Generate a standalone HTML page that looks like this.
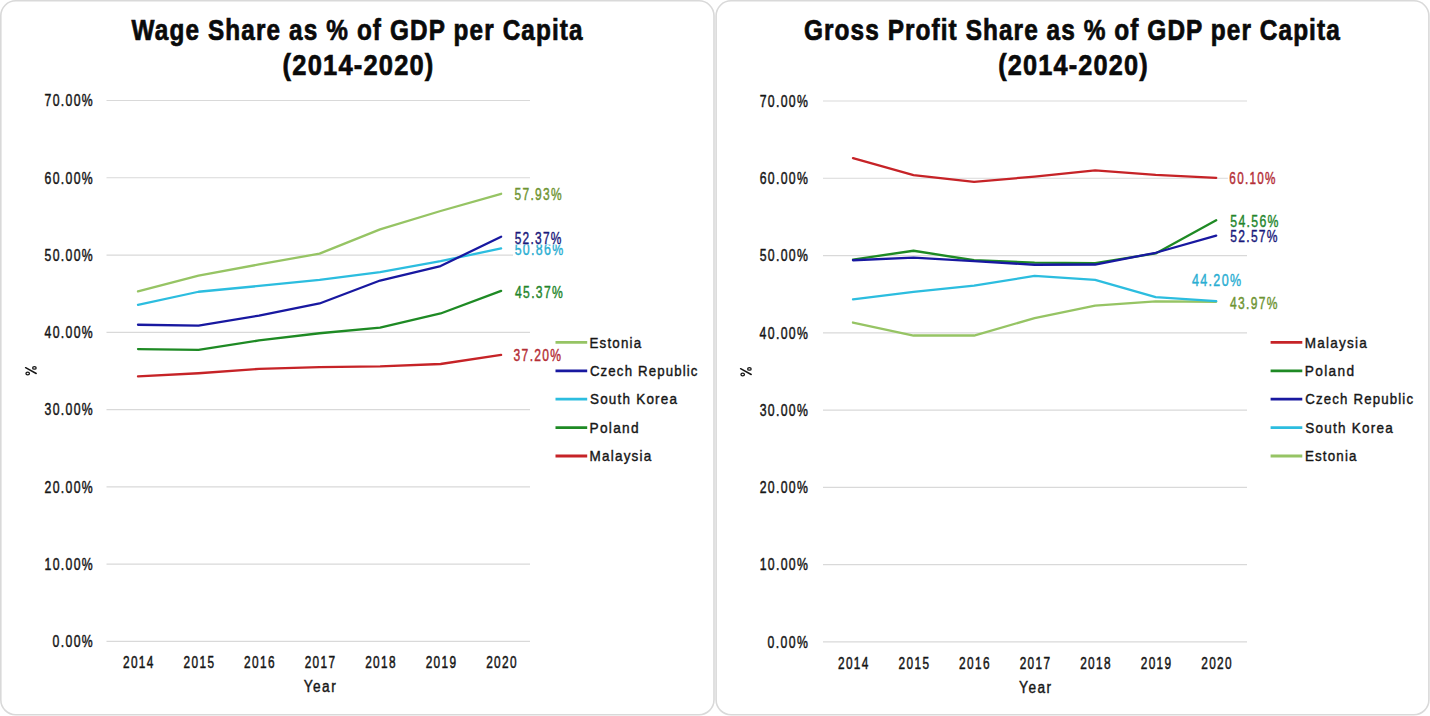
<!DOCTYPE html>
<html><head><meta charset="utf-8"><style>
html,body{margin:0;padding:0;background:#fff;}
body{width:1430px;height:716px;overflow:hidden;}
svg{display:block;font-family:"Liberation Sans",sans-serif;}
</style></head><body>
<svg width="1430" height="716" viewBox="0 0 1430 716">
<rect x="0" y="0" width="1430" height="716" fill="#fff"/>
<rect x="0.8" y="0.8" width="713.2" height="714" rx="15" ry="15" fill="none" stroke="#d9d9d9" stroke-width="1.6"/>
<rect x="716.1" y="0.8" width="712.8" height="714" rx="15" ry="15" fill="none" stroke="#d9d9d9" stroke-width="1.6"/>
<line x1="106.5" y1="100.50" x2="530" y2="100.50" stroke="#d9d9d9" stroke-width="1.2"/>
<line x1="106.5" y1="177.77" x2="530" y2="177.77" stroke="#d9d9d9" stroke-width="1.2"/>
<line x1="106.5" y1="255.04" x2="530" y2="255.04" stroke="#d9d9d9" stroke-width="1.2"/>
<line x1="106.5" y1="332.31" x2="530" y2="332.31" stroke="#d9d9d9" stroke-width="1.2"/>
<line x1="106.5" y1="409.59" x2="530" y2="409.59" stroke="#d9d9d9" stroke-width="1.2"/>
<line x1="106.5" y1="486.86" x2="530" y2="486.86" stroke="#d9d9d9" stroke-width="1.2"/>
<line x1="106.5" y1="564.13" x2="530" y2="564.13" stroke="#d9d9d9" stroke-width="1.2"/>
<line x1="106.5" y1="641.40" x2="530" y2="641.40" stroke="#d9d9d9" stroke-width="1.2"/>
<text transform="translate(44.57,106.32) scale(0.7548,1)" font-size="16.25" font-weight="normal" fill="#161616" stroke="#161616" stroke-width="0.477" letter-spacing="1.748">70.00%</text>
<text transform="translate(44.57,183.59) scale(0.7548,1)" font-size="16.25" font-weight="normal" fill="#161616" stroke="#161616" stroke-width="0.477" letter-spacing="1.749">60.00%</text>
<text transform="translate(44.55,260.86) scale(0.7548,1)" font-size="16.25" font-weight="normal" fill="#161616" stroke="#161616" stroke-width="0.477" letter-spacing="1.754">50.00%</text>
<text transform="translate(44.51,338.13) scale(0.7548,1)" font-size="16.25" font-weight="normal" fill="#161616" stroke="#161616" stroke-width="0.477" letter-spacing="1.764">40.00%</text>
<text transform="translate(44.54,415.41) scale(0.7548,1)" font-size="16.25" font-weight="normal" fill="#161616" stroke="#161616" stroke-width="0.477" letter-spacing="1.755">30.00%</text>
<text transform="translate(44.57,492.68) scale(0.7548,1)" font-size="16.25" font-weight="normal" fill="#161616" stroke="#161616" stroke-width="0.477" letter-spacing="1.749">20.00%</text>
<text transform="translate(44.62,569.95) scale(0.7548,1)" font-size="16.25" font-weight="normal" fill="#161616" stroke="#161616" stroke-width="0.477" letter-spacing="1.735">10.00%</text>
<text transform="translate(52.47,647.22) scale(0.7548,1)" font-size="16.25" font-weight="normal" fill="#161616" stroke="#161616" stroke-width="0.477" letter-spacing="1.826">0.00%</text>
<g transform="translate(0.00,0.00)" stroke="#161616" fill="none"><line x1="25.6" y1="367.7" x2="36.2" y2="373.5" stroke-width="1.5" stroke-linecap="round"/><ellipse cx="27.7" cy="373.5" rx="1.75" ry="1.3" stroke-width="1.3"/><ellipse cx="34.4" cy="367.9" rx="1.75" ry="1.3" stroke-width="1.3"/></g>
<text transform="translate(122.94,667.82) scale(0.7287,1)" font-size="16.25" font-weight="normal" fill="#161616" stroke="#161616" stroke-width="0.494" letter-spacing="1.892">2014</text>
<text transform="translate(183.55,667.82) scale(0.7287,1)" font-size="16.25" font-weight="normal" fill="#161616" stroke="#161616" stroke-width="0.494" letter-spacing="1.880">2015</text>
<text transform="translate(244.09,667.82) scale(0.7287,1)" font-size="16.25" font-weight="normal" fill="#161616" stroke="#161616" stroke-width="0.494" letter-spacing="1.878">2016</text>
<text transform="translate(304.65,667.82) scale(0.7287,1)" font-size="16.25" font-weight="normal" fill="#161616" stroke="#161616" stroke-width="0.494" letter-spacing="1.872">2017</text>
<text transform="translate(365.13,667.82) scale(0.7287,1)" font-size="16.25" font-weight="normal" fill="#161616" stroke="#161616" stroke-width="0.494" letter-spacing="1.878">2018</text>
<text transform="translate(425.68,667.82) scale(0.7287,1)" font-size="16.25" font-weight="normal" fill="#161616" stroke="#161616" stroke-width="0.494" letter-spacing="1.874">2019</text>
<text transform="translate(486.13,667.82) scale(0.7287,1)" font-size="16.25" font-weight="normal" fill="#161616" stroke="#161616" stroke-width="0.494" letter-spacing="1.883">2020</text>
<text transform="translate(303.68,691.92) scale(0.8452,1)" font-size="16.19" font-weight="normal" fill="#161616" stroke="#161616" stroke-width="0.426" letter-spacing="1.741">Year</text>
<text transform="translate(131.55,40.20) scale(0.8412,1)" font-size="28.92" font-weight="bold" fill="#0a0a0a" stroke="#0a0a0a" stroke-width="0.713" letter-spacing="1.341">Wage Share as % of GDP per Capita</text>
<text transform="translate(282.62,74.70) scale(0.8558,1)" font-size="29.80" font-weight="bold" fill="#0a0a0a" stroke="#0a0a0a" stroke-width="0.701" letter-spacing="1.386">(2014-2020)</text>
<polyline points="138.00,291.44 198.52,275.67 259.04,264.47 319.56,253.65 380.08,229.39 440.60,211.00 501.12,193.77" fill="none" stroke="#96c464" stroke-width="2.3" stroke-linejoin="round" stroke-linecap="round"/>
<polyline points="138.00,304.88 198.52,291.75 259.04,285.95 319.56,279.77 380.08,272.04 440.60,261.22 501.12,248.40" fill="none" stroke="#2cbddf" stroke-width="2.3" stroke-linejoin="round" stroke-linecap="round"/>
<polyline points="138.00,324.74 198.52,325.59 259.04,315.55 319.56,303.49 380.08,280.54 440.60,266.02 501.12,236.73" fill="none" stroke="#1818a0" stroke-width="2.3" stroke-linejoin="round" stroke-linecap="round"/>
<polyline points="138.00,349.08 198.52,349.85 259.04,340.43 319.56,333.24 380.08,327.68 440.60,313.46 501.12,290.82" fill="none" stroke="#1e8a24" stroke-width="2.3" stroke-linejoin="round" stroke-linecap="round"/>
<polyline points="138.00,376.36 198.52,373.27 259.04,368.86 319.56,367.09 380.08,366.31 440.60,364.00 501.12,354.88" fill="none" stroke="#c62327" stroke-width="2.3" stroke-linejoin="round" stroke-linecap="round"/>
<rect x="512.80" y="187.60" width="50.60" height="14.60" fill="#fff"/>
<text transform="translate(514.48,200.04) scale(0.7561,1)" font-size="15.87" font-weight="normal" fill="#6e9432" stroke="#6e9432" stroke-width="0.423" letter-spacing="1.714">57.93%</text>
<rect x="513.00" y="242.60" width="51.90" height="14.60" fill="#fff"/>
<text transform="translate(514.67,255.04) scale(0.7774,1)" font-size="15.87" font-weight="normal" fill="#2aaed2" stroke="#2aaed2" stroke-width="0.412" letter-spacing="1.714">50.86%</text>
<rect x="513.00" y="231.80" width="50.20" height="12.80" fill="#fff"/>
<text transform="translate(514.68,244.24) scale(0.7496,1)" font-size="15.87" font-weight="normal" fill="#1a1a7c" stroke="#1a1a7c" stroke-width="0.427" letter-spacing="1.714">52.37%</text>
<rect x="513.10" y="285.60" width="51.40" height="14.70" fill="#fff"/>
<text transform="translate(514.99,298.14) scale(0.7582,1)" font-size="16.02" font-weight="normal" fill="#24862c" stroke="#24862c" stroke-width="0.422" letter-spacing="1.739">45.37%</text>
<rect x="511.90" y="348.40" width="50.90" height="14.70" fill="#fff"/>
<text transform="translate(513.60,360.94) scale(0.7538,1)" font-size="16.02" font-weight="normal" fill="#b42e36" stroke="#b42e36" stroke-width="0.425" letter-spacing="1.730">37.20%</text>
<line x1="555.5" y1="342.40" x2="587.2" y2="342.40" stroke="#96c464" stroke-width="2.8"/>
<text transform="translate(589.48,347.62) scale(0.8802,1)" font-size="15.17" font-weight="normal" fill="#161616" stroke="#161616" stroke-width="0.409" letter-spacing="1.340">Estonia</text>
<line x1="555.5" y1="370.80" x2="587.2" y2="370.80" stroke="#1818a0" stroke-width="2.8"/>
<text transform="translate(589.92,376.02) scale(0.8724,1)" font-size="15.17" font-weight="normal" fill="#161616" stroke="#161616" stroke-width="0.413" letter-spacing="1.316">Czech Republic</text>
<line x1="555.5" y1="399.20" x2="587.2" y2="399.20" stroke="#2cbddf" stroke-width="2.8"/>
<text transform="translate(589.96,404.42) scale(0.8895,1)" font-size="15.17" font-weight="normal" fill="#161616" stroke="#161616" stroke-width="0.405" letter-spacing="1.362">South Korea</text>
<line x1="555.5" y1="427.60" x2="587.2" y2="427.60" stroke="#1e8a24" stroke-width="2.8"/>
<text transform="translate(589.46,432.82) scale(0.9021,1)" font-size="15.17" font-weight="normal" fill="#161616" stroke="#161616" stroke-width="0.399" letter-spacing="1.466">Poland</text>
<line x1="555.5" y1="456.00" x2="587.2" y2="456.00" stroke="#c62327" stroke-width="2.8"/>
<text transform="translate(589.47,461.22) scale(0.8924,1)" font-size="15.17" font-weight="normal" fill="#161616" stroke="#161616" stroke-width="0.403" letter-spacing="1.364">Malaysia</text>
<line x1="823" y1="101.00" x2="1247" y2="101.00" stroke="#d9d9d9" stroke-width="1.2"/>
<line x1="823" y1="178.27" x2="1247" y2="178.27" stroke="#d9d9d9" stroke-width="1.2"/>
<line x1="823" y1="255.54" x2="1247" y2="255.54" stroke="#d9d9d9" stroke-width="1.2"/>
<line x1="823" y1="332.81" x2="1247" y2="332.81" stroke="#d9d9d9" stroke-width="1.2"/>
<line x1="823" y1="410.09" x2="1247" y2="410.09" stroke="#d9d9d9" stroke-width="1.2"/>
<line x1="823" y1="487.36" x2="1247" y2="487.36" stroke="#d9d9d9" stroke-width="1.2"/>
<line x1="823" y1="564.63" x2="1247" y2="564.63" stroke="#d9d9d9" stroke-width="1.2"/>
<line x1="823" y1="641.90" x2="1247" y2="641.90" stroke="#d9d9d9" stroke-width="1.2"/>
<text transform="translate(759.67,106.82) scale(0.7548,1)" font-size="16.25" font-weight="normal" fill="#161616" stroke="#161616" stroke-width="0.477" letter-spacing="1.748">70.00%</text>
<text transform="translate(759.67,184.09) scale(0.7548,1)" font-size="16.25" font-weight="normal" fill="#161616" stroke="#161616" stroke-width="0.477" letter-spacing="1.749">60.00%</text>
<text transform="translate(759.65,261.36) scale(0.7548,1)" font-size="16.25" font-weight="normal" fill="#161616" stroke="#161616" stroke-width="0.477" letter-spacing="1.754">50.00%</text>
<text transform="translate(759.61,338.63) scale(0.7548,1)" font-size="16.25" font-weight="normal" fill="#161616" stroke="#161616" stroke-width="0.477" letter-spacing="1.764">40.00%</text>
<text transform="translate(759.64,415.91) scale(0.7548,1)" font-size="16.25" font-weight="normal" fill="#161616" stroke="#161616" stroke-width="0.477" letter-spacing="1.755">30.00%</text>
<text transform="translate(759.67,493.18) scale(0.7548,1)" font-size="16.25" font-weight="normal" fill="#161616" stroke="#161616" stroke-width="0.477" letter-spacing="1.749">20.00%</text>
<text transform="translate(759.72,570.45) scale(0.7548,1)" font-size="16.25" font-weight="normal" fill="#161616" stroke="#161616" stroke-width="0.477" letter-spacing="1.735">10.00%</text>
<text transform="translate(767.57,647.72) scale(0.7548,1)" font-size="16.25" font-weight="normal" fill="#161616" stroke="#161616" stroke-width="0.477" letter-spacing="1.826">0.00%</text>
<g transform="translate(715.00,1.00)" stroke="#161616" fill="none"><line x1="25.6" y1="367.7" x2="36.2" y2="373.5" stroke-width="1.5" stroke-linecap="round"/><ellipse cx="27.7" cy="373.5" rx="1.75" ry="1.3" stroke-width="1.3"/><ellipse cx="34.4" cy="367.9" rx="1.75" ry="1.3" stroke-width="1.3"/></g>
<text transform="translate(837.94,668.72) scale(0.7287,1)" font-size="16.25" font-weight="normal" fill="#161616" stroke="#161616" stroke-width="0.494" letter-spacing="1.892">2014</text>
<text transform="translate(898.56,668.72) scale(0.7287,1)" font-size="16.25" font-weight="normal" fill="#161616" stroke="#161616" stroke-width="0.494" letter-spacing="1.880">2015</text>
<text transform="translate(959.11,668.72) scale(0.7287,1)" font-size="16.25" font-weight="normal" fill="#161616" stroke="#161616" stroke-width="0.494" letter-spacing="1.878">2016</text>
<text transform="translate(1019.68,668.72) scale(0.7287,1)" font-size="16.25" font-weight="normal" fill="#161616" stroke="#161616" stroke-width="0.494" letter-spacing="1.872">2017</text>
<text transform="translate(1080.17,668.72) scale(0.7287,1)" font-size="16.25" font-weight="normal" fill="#161616" stroke="#161616" stroke-width="0.494" letter-spacing="1.878">2018</text>
<text transform="translate(1140.73,668.72) scale(0.7287,1)" font-size="16.25" font-weight="normal" fill="#161616" stroke="#161616" stroke-width="0.494" letter-spacing="1.874">2019</text>
<text transform="translate(1201.19,668.72) scale(0.7287,1)" font-size="16.25" font-weight="normal" fill="#161616" stroke="#161616" stroke-width="0.494" letter-spacing="1.883">2020</text>
<text transform="translate(1019.08,692.62) scale(0.8452,1)" font-size="16.19" font-weight="normal" fill="#161616" stroke="#161616" stroke-width="0.426" letter-spacing="1.741">Year</text>
<text transform="translate(804.02,40.20) scale(0.8433,1)" font-size="28.92" font-weight="bold" fill="#0a0a0a" stroke="#0a0a0a" stroke-width="0.712" letter-spacing="1.269">Gross Profit Share as % of GDP per Capita</text>
<text transform="translate(998.14,74.70) scale(0.8489,1)" font-size="29.80" font-weight="bold" fill="#0a0a0a" stroke="#0a0a0a" stroke-width="0.707" letter-spacing="1.386">(2014-2020)</text>
<polyline points="853.00,158.18 913.53,175.03 974.06,181.90 1034.59,176.57 1095.12,170.31 1155.65,174.95 1216.18,177.89" fill="none" stroke="#c62327" stroke-width="2.3" stroke-linejoin="round" stroke-linecap="round"/>
<polyline points="853.00,259.56 913.53,250.75 974.06,260.26 1034.59,262.57 1095.12,263.04 1155.65,253.46 1216.18,220.31" fill="none" stroke="#1e8a24" stroke-width="2.3" stroke-linejoin="round" stroke-linecap="round"/>
<polyline points="853.00,260.26 913.53,257.63 974.06,261.03 1034.59,264.74 1095.12,264.51 1155.65,252.76 1216.18,235.68" fill="none" stroke="#1818a0" stroke-width="2.3" stroke-linejoin="round" stroke-linecap="round"/>
<polyline points="853.00,322.54 913.53,335.52 974.06,335.52 1034.59,318.13 1095.12,305.61 1155.65,301.36 1216.18,301.75" fill="none" stroke="#96c464" stroke-width="2.3" stroke-linejoin="round" stroke-linecap="round"/>
<polyline points="853.00,299.43 913.53,291.78 974.06,285.68 1034.59,275.87 1095.12,279.88 1155.65,297.11 1216.18,301.06" fill="none" stroke="#2cbddf" stroke-width="2.3" stroke-linejoin="round" stroke-linecap="round"/>
<rect x="1227.80" y="171.80" width="49.30" height="14.70" fill="#fff"/>
<text transform="translate(1229.37,184.34) scale(0.7305,1)" font-size="16.02" font-weight="normal" fill="#b42e36" stroke="#b42e36" stroke-width="0.438" letter-spacing="1.724">60.10%</text>
<rect x="1228.60" y="214.40" width="51.60" height="14.70" fill="#fff"/>
<text transform="translate(1230.27,226.94) scale(0.7656,1)" font-size="16.02" font-weight="normal" fill="#24862c" stroke="#24862c" stroke-width="0.418" letter-spacing="1.729">54.56%</text>
<rect x="1228.60" y="229.40" width="50.70" height="14.70" fill="#fff"/>
<text transform="translate(1230.28,241.94) scale(0.7510,1)" font-size="16.02" font-weight="normal" fill="#1a1a7c" stroke="#1a1a7c" stroke-width="0.426" letter-spacing="1.729">52.57%</text>
<rect x="1228.20" y="296.10" width="50.90" height="14.70" fill="#fff"/>
<text transform="translate(1230.10,308.64) scale(0.7501,1)" font-size="16.02" font-weight="normal" fill="#6e9432" stroke="#6e9432" stroke-width="0.427" letter-spacing="1.739">43.97%</text>
<rect x="1190.00" y="273.70" width="52.80" height="14.70" fill="#fff"/>
<text transform="translate(1191.88,286.24) scale(0.7807,1)" font-size="16.02" font-weight="normal" fill="#2aaed2" stroke="#2aaed2" stroke-width="0.410" letter-spacing="1.739">44.20%</text>
<line x1="1270.6" y1="342.40" x2="1302.3" y2="342.40" stroke="#c62327" stroke-width="2.8"/>
<text transform="translate(1304.87,347.62) scale(0.8924,1)" font-size="15.17" font-weight="normal" fill="#161616" stroke="#161616" stroke-width="0.403" letter-spacing="1.364">Malaysia</text>
<line x1="1270.6" y1="370.80" x2="1302.3" y2="370.80" stroke="#1e8a24" stroke-width="2.8"/>
<text transform="translate(1304.86,376.02) scale(0.9021,1)" font-size="15.17" font-weight="normal" fill="#161616" stroke="#161616" stroke-width="0.399" letter-spacing="1.466">Poland</text>
<line x1="1270.6" y1="399.20" x2="1302.3" y2="399.20" stroke="#1818a0" stroke-width="2.8"/>
<text transform="translate(1305.32,404.42) scale(0.8740,1)" font-size="15.17" font-weight="normal" fill="#161616" stroke="#161616" stroke-width="0.412" letter-spacing="1.316">Czech Republic</text>
<line x1="1270.6" y1="427.60" x2="1302.3" y2="427.60" stroke="#2cbddf" stroke-width="2.8"/>
<text transform="translate(1305.36,432.82) scale(0.8926,1)" font-size="15.17" font-weight="normal" fill="#161616" stroke="#161616" stroke-width="0.403" letter-spacing="1.362">South Korea</text>
<line x1="1270.6" y1="456.00" x2="1302.3" y2="456.00" stroke="#96c464" stroke-width="2.8"/>
<text transform="translate(1304.88,461.22) scale(0.8802,1)" font-size="15.17" font-weight="normal" fill="#161616" stroke="#161616" stroke-width="0.409" letter-spacing="1.340">Estonia</text>
</svg>
</body></html>
